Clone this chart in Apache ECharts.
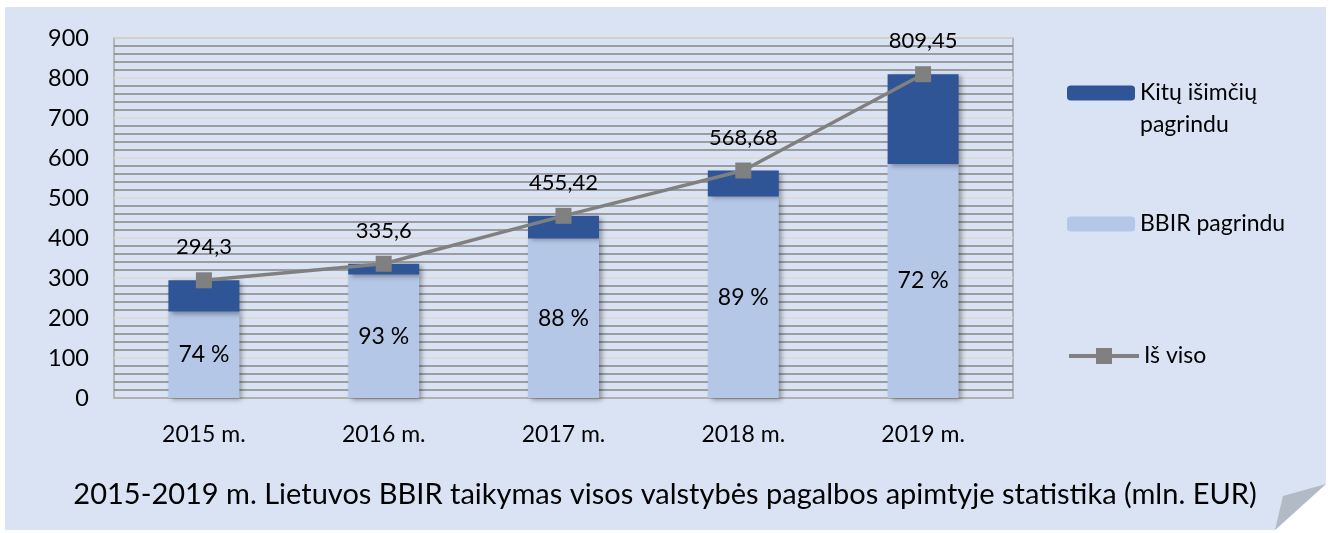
<!DOCTYPE html>
<html>
<head>
<meta charset="utf-8">
<script src="https://cdn.jsdelivr.net/npm/echarts@6/dist/echarts.min.js"></script>
<style>
  html, body { margin: 0; padding: 0; background: #fff; }
  #chart { width: 1330px; height: 533px; }
</style>
</head>
<body>
<div id="chart"></div>
<script>
const years = ['2015 m.', '2016 m.', '2017 m.', '2018 m.', '2019 m.']
const bbir = [216, 309, 399, 504, 585]
const other = [78.3, 26.6, 56.42, 64.68, 224.45]
const totals = [294.3, 335.6, 455.42, 568.68, 809.45]
const shares = ['74 %', '93 %', '88 %', '89 %', '72 %']

const FONT = 'Lato'
const ink = '#000'

const chart = echarts.init(document.getElementById('chart'))

const legendText = { fontFamily: FONT, fontSize: 23, color: ink, lineHeight: 32 }
const barShadow = { shadowColor: 'rgba(0,0,0,0.35)', shadowBlur: 5, shadowOffsetX: 3, shadowOffsetY: 2 }

chart.setOption({
  backgroundColor: '#fff',
  textStyle: { fontFamily: FONT },
  animation: false,
  graphic: [
    {
      type: 'polygon', z: -10, silent: true,
      shape: { points: [[5, 7], [1326, 7], [1326, 484], [1275, 530], [5, 530]] },
      style: { fill: '#dae3f3' }
    },
    {
      type: 'polygon', z: -9, silent: true,
      shape: { points: [[1326, 484], [1283, 496], [1275, 530]] },
      style: { fill: '#b2bac6' }
    },
    {
      type: 'text', left: 'center', top: 480,
      style: {
        text: '2015-2019 m. Lietuvos BBIR taikymas visos valstybės pagalbos apimtyje statistika (mln. EUR)',
        fontFamily: FONT, fontSize: 29, fill: ink
      }
    }
  ],
  legend: [
    {
      // leading blank line keeps the icon level with the first text line
      data: ['Kitų išimčių pagrindu'], left: 1062, top: 40, orient: 'vertical',
      itemWidth: 68, itemHeight: 15,
      formatter: () => '\u00a0\nKitų išimčių\npagrindu',
      textStyle: legendText
    },
    {
      data: ['BBIR pagrindu'], left: 1062, top: 203, orient: 'vertical',
      itemWidth: 68, itemHeight: 15,
      textStyle: legendText
    },
    {
      data: ['Iš viso'], left: 1062, top: 335, orient: 'vertical',
      itemWidth: 70, itemHeight: 20,
      lineStyle: { width: 4 },
      textStyle: legendText
    }
  ],
  grid: {
    left: 114, right: 317, top: 38, bottom: 135,
    show: true, backgroundColor: 'transparent', borderColor: '#a6a6a6', borderWidth: 1.5
  },
  xAxis: {
    type: 'category', data: years,
    axisLine: { lineStyle: { color: '#a6a6a6', width: 1.5 } },
    axisTick: { show: false },
    axisLabel: { color: ink, fontSize: 23, margin: 25, fontFamily: FONT }
  },
  yAxis: {
    type: 'value', min: 0, max: 900, interval: 100,
    axisLine: { show: false },
    axisTick: { show: false },
    axisLabel: { color: ink, fontSize: 23.5, margin: 25, fontFamily: FONT },
    splitLine: { lineStyle: { color: '#dcd9d2', width: 1.5 } },
    minorTick: { show: false, splitNumber: 5 },
    minorSplitLine: { show: true, lineStyle: { color: '#858585', width: 1.5 } }
  },
  series: [
    {
      name: 'BBIR pagrindu', type: 'bar', stack: 'all', data: bbir, barWidth: 71,
      itemStyle: Object.assign({ color: '#b4c7e7' }, barShadow),
      label: {
        show: true, position: 'inside', color: ink, fontSize: 23, fontFamily: FONT,
        formatter: p => shares[p.dataIndex]
      }
    },
    {
      name: 'Kitų išimčių pagrindu', type: 'bar', stack: 'all', data: other, barWidth: 71,
      itemStyle: Object.assign({ color: '#2f5597' }, barShadow)
    },
    {
      name: 'Iš viso', type: 'line', data: totals,
      symbol: 'rect', symbolSize: 16,
      lineStyle: { color: '#808080', width: 3.5 },
      itemStyle: { color: '#808080' },
      label: {
        show: true, position: 'top', distance: 14, color: ink, fontSize: 22, fontFamily: FONT,
        formatter: p => String(p.value).replace('.', ',')
      },
      z: 5
    }
  ]
})
</script>
</body>
</html>
